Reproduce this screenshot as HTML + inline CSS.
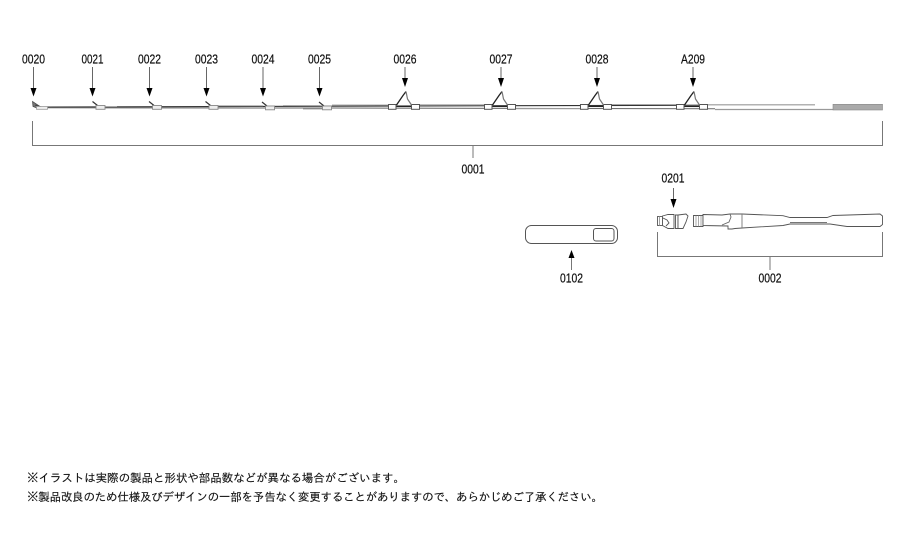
<!DOCTYPE html>
<html lang="ja">
<head>
<meta charset="utf-8">
<title>Diagram</title>
<style>
html,body{margin:0;padding:0;background:#fff;}
svg{display:block;}
.l{font-family:"Liberation Sans",sans-serif;font-size:12.500px;fill:#111;stroke:#111;stroke-width:.2;text-anchor:middle;}
.n{font-family:"Liberation Sans","IPAGothic","Noto Sans CJK JP",sans-serif;font-size:11.500px;fill:#111;stroke:#111;stroke-width:.12;}
</style>
</head>
<body>
<svg width="906" height="538" viewBox="0 0 906 538" xmlns="http://www.w3.org/2000/svg">
<defs>
<g id="ad"><path d="M0 0V21" stroke="#666" stroke-width="1" fill="none"/><path d="M-3 21H3L0 29.500Z" fill="#000"/></g>
<g id="as"><path d="M0 0V11" stroke="#666" stroke-width="1" fill="none"/><path d="M-3 11H3L0 20Z" fill="#000"/></g>
<g id="sg"><path d="M-6 -7L-1 -3" stroke="#333" stroke-width="1.200"/><rect x="-2.500" y="-3" width="9" height="3.800" fill="#eee" stroke="#888" stroke-width=".9"/></g>
<g id="bg" fill="none"><path d="M-9 16.500H7" stroke="#222" stroke-width="1.100"/><rect x="-16.500" y="14.500" width="7.500" height="4.800" fill="#fff" stroke="#555" stroke-width="1"/><rect x="6.500" y="14.500" width="8" height="4.800" fill="#fff" stroke="#555" stroke-width="1"/><path d="M-8.500 15L-2 5.500 1 1.500" stroke="#222" stroke-width="1.300"/><path d="M1 1.500L2.500 9 6.500 15" stroke="#777" stroke-width="1.200"/></g>
</defs>

<!-- top labels -->
<g class="l">
<text x="33.500" y="63.500" textLength="23" lengthAdjust="spacingAndGlyphs">0020</text>
<text x="92.500" y="63.500" textLength="22" lengthAdjust="spacingAndGlyphs">0021</text>
<text x="149.500" y="63.500" textLength="23" lengthAdjust="spacingAndGlyphs">0022</text>
<text x="206.500" y="63.500" textLength="23" lengthAdjust="spacingAndGlyphs">0023</text>
<text x="263" y="63.500" textLength="23" lengthAdjust="spacingAndGlyphs">0024</text>
<text x="319.500" y="63.500" textLength="23" lengthAdjust="spacingAndGlyphs">0025</text>
<text x="405" y="63.500" textLength="23" lengthAdjust="spacingAndGlyphs">0026</text>
<text x="501" y="63.500" textLength="23" lengthAdjust="spacingAndGlyphs">0027</text>
<text x="597" y="63.500" textLength="23" lengthAdjust="spacingAndGlyphs">0028</text>
<text x="693" y="63.500" textLength="24" lengthAdjust="spacingAndGlyphs">A209</text>
<text x="473" y="173.500" textLength="23" lengthAdjust="spacingAndGlyphs">0001</text>
<text x="673" y="182.500" textLength="23" lengthAdjust="spacingAndGlyphs">0201</text>
<text x="571.500" y="282.500" textLength="23" lengthAdjust="spacingAndGlyphs">0102</text>
<text x="770" y="282.500" textLength="23" lengthAdjust="spacingAndGlyphs">0002</text>
</g>

<!-- arrows -->
<use href="#ad" x="33.500" y="67"/>
<use href="#ad" x="92.500" y="67"/>
<use href="#ad" x="149.500" y="67"/>
<use href="#ad" x="206.500" y="67"/>
<use href="#ad" x="263" y="67"/>
<use href="#ad" x="319.500" y="67"/>
<use href="#as" x="405" y="67"/>
<use href="#as" x="501" y="67"/>
<use href="#as" x="597" y="67"/>
<use href="#as" x="693" y="67"/>

<!-- rod -->
<path d="M47 107.200L708 105 815 104.800 833 104.800 M47 108L715 109.500 833 109.500Z" fill="#fff" stroke="none"/>
<path d="M47 107L332 106.200 708 105.200" stroke="#333" stroke-width="1.100" fill="none"/>
<path d="M47 107.800L332 108 715 108.800" stroke="#666" stroke-width="1" fill="none"/>
<path d="M105 106.500H117M218 105.800H263M283 105.500H320M303 109H332M332 105H388M420 104.800H485M516 108.800H581M612 104.500H677" stroke="#aaa" stroke-width="1" fill="none"/>
<path d="M708 104.800H815" stroke="#999" stroke-width="1.200" fill="none"/>
<path d="M715 109.500H833" stroke="#999" stroke-width="1.200" fill="none"/>
<rect x="833" y="104.300" width="49.500" height="5.700" fill="#aaa" stroke="#888" stroke-width=".6"/>

<!-- tip -->
<path d="M32.500 101.500L33 106.500 37 108 40 106.500Z" fill="#777" stroke="#444" stroke-width=".7"/>
<path d="M35 105L43 107.500" stroke="#444" stroke-width="1"/>
<rect x="36.500" y="106.500" width="11" height="2.800" fill="#eee" stroke="#999" stroke-width=".8"/>

<!-- small guides -->
<use href="#sg" x="98.500" y="108.500"/>
<use href="#sg" x="155" y="108.500"/>
<use href="#sg" x="211.500" y="108.500"/>
<use href="#sg" x="268" y="109"/>
<use href="#sg" x="325" y="109"/>

<!-- big guides -->
<use href="#bg" x="405" y="90"/>
<use href="#bg" x="501" y="90"/>
<use href="#bg" x="597" y="90"/>
<use href="#bg" x="693" y="90"/>

<!-- brackets -->
<path d="M32.500 121V145.500H882.500V121M473 145.500V158" fill="none" stroke="#777" stroke-width="1"/>
<path d="M657.500 232V256.500H882.500V232M770 256.500V270" fill="none" stroke="#777" stroke-width="1"/>

<!-- 0201 arrow -->
<use href="#as" x="673.500" y="188"/>

<!-- 0102 -->
<rect x="525.500" y="225.500" width="92" height="18" rx="6" fill="#fff" stroke="#555" stroke-width="1"/>
<rect x="593.500" y="228.500" width="20.500" height="12.500" rx="2.500" fill="#fff" stroke="#555" stroke-width="1"/>
<path d="M571.500 258V270" stroke="#777" stroke-width="1"/>
<path d="M571.500 250L574.500 258H568.500Z" fill="#000"/>

<!-- reel seat parts -->
<g fill="#fff" stroke="#555" stroke-width=".9">
<rect x="657.500" y="216.500" width="5" height="9"/>
<path d="M659.500 216.500V225.500" fill="none" stroke="#999"/>
<path d="M662.500 216L668 214.500H674V228.500H668L662.500 225.500Z"/>
<path d="M663 218L667 220 669 223 666 226" fill="none"/>
<path d="M675.500 215H678V228.500H675.500Z"/>
<path d="M678 215L686 214 688 216 686 222 683 228.500H678Z"/>
</g>

<!-- handle -->
<g fill="#fff" stroke="#555" stroke-width=".9">
<path d="M693.500 215.500H703V226.500H693.500Z"/>
<path d="M696 215.500V226.500M698.500 215.500V226.500M701 215.500V226.500" fill="none" stroke="#888" stroke-width=".7"/>
<path d="M703 214.500L722 215 730 214 742 214 783 215.700 790 217.500H827L833 215.500 880 214 882.500 216V224.500L880 226.500 847 226.500 830 224H790L783 225.500 742 228 735 228.500 732 229 728 229 728 226 703 225.500Z"/>
<path d="M742 214V228M790 222.500H827" fill="none" stroke="#777"/>
<path d="M722 225L729 222 731 217 730 214" fill="none" stroke="#666"/>
</g>

<!-- notes -->
<text class="n" x="27" y="482" textLength="378">※イラストは実際の製品と形状や部品数などが異なる場合がございます。</text>
<text class="n" x="27" y="501" textLength="576">※製品改良のため仕様及びデザインの一部を予告なく変更することがありますので、あらかじめご了承ください。</text>
</svg>
</body>
</html>
